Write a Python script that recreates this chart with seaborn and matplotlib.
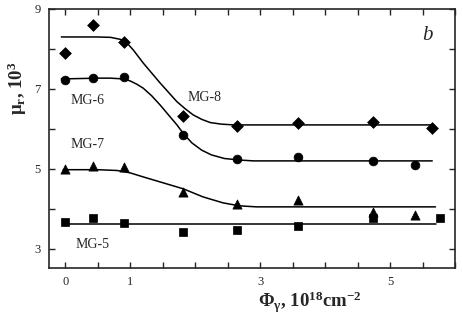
import numpy as np
import pandas as pd
import matplotlib
matplotlib.use('Agg')
import matplotlib.pyplot as plt
import seaborn as sns

# measured points (dose, permeability in 10^3)
dose = [0, 0.43, 0.91, 1.81, 2.65, 3.58, 4.74, 5.65]
mg8 = [7.9, 8.6, 8.18, 6.33, 6.08, 6.15, 6.18, 6.03]
dose6 = [0, 0.43, 0.91, 1.81, 2.65, 3.58, 4.74, 5.38]
mg6 = [7.23, 7.28, 7.3, 5.85, 5.25, 5.3, 5.2, 5.1]
dose7 = [0, 0.43, 0.91, 1.81, 2.65, 3.58, 4.74, 5.38]
mg7 = [5.0, 5.08, 5.05, 4.43, 4.13, 4.23, 3.93, 3.85]
dose5 = [0, 0.43, 0.91, 1.81, 2.65, 3.58, 4.74, 5.77]
mg5 = [3.68, 3.78, 3.65, 3.43, 3.46, 3.56, 3.78, 3.78]

# fitted curves
fit8_x = [-0.06, 0.5, 0.7, 0.85, 0.95, 1.05, 1.2, 1.46, 1.72, 1.85, 1.97, 2.1, 2.23, 2.4, 2.6, 3.5, 5.65]
fit8_y = [8.3, 8.3, 8.29, 8.24, 8.15, 7.97, 7.65, 7.15, 6.68, 6.5, 6.35, 6.24, 6.16, 6.12, 6.1, 6.1, 6.1]
fit6_x = [-0.06, 0.5, 0.69, 0.9, 1.0, 1.1, 1.2, 1.33, 1.46, 1.6, 1.72, 1.82, 1.95, 2.1, 2.25, 2.45, 2.7, 2.9, 5.65]
fit6_y = [7.25, 7.27, 7.27, 7.25, 7.2, 7.12, 7.02, 6.83, 6.6, 6.33, 6.1, 5.88, 5.65, 5.47, 5.35, 5.26, 5.22, 5.2, 5.2]
fit7_x = [-0.03, 0.5, 0.8, 1.0, 1.2, 1.51, 1.82, 2.12, 2.43, 2.6, 2.74, 2.95, 3.15, 5.7]
fit7_y = [4.98, 4.98, 4.96, 4.9, 4.8, 4.65, 4.5, 4.3, 4.15, 4.1, 4.07, 4.05, 4.05, 4.05]
fit5_x = [0, 5.7]
fit5_y = [3.63, 3.63]

xtick_labels = {0: '0', 1: '1', 3: '3', 5: '5'}
ytick_labels = {3: '3', 5: '5', 7: '7', 9: '9'}

sns.set_style('ticks')
plt.rcParams['font.family'] = ['Liberation Serif', 'DejaVu Serif']
plt.rcParams['mathtext.fontset'] = 'custom'
plt.rcParams['mathtext.rm'] = 'Liberation Serif'
plt.rcParams['mathtext.it'] = 'Liberation Serif:italic'
plt.rcParams['mathtext.bf'] = 'Liberation Serif:bold'

fig = plt.figure(figsize=(4.63, 3.21), dpi=100)
ax = fig.add_axes([0.1058, 0.165, 0.8769, 0.807])

curves = [(fit8_x, fit8_y), (fit6_x, fit6_y), (fit7_x, fit7_y), (fit5_x, fit5_y)]
for cx, cy in curves:
    sns.lineplot(x=cx, y=cy, ax=ax, color='black', lw=1.1, sort=False, estimator=None)

pts = [(dose, mg8, 'D', 36), (dose6, mg6, 'o', 40), (dose7, mg7, '^', 44), (dose5, mg5, 's', 26)]
for px, py, m, s in pts:
    sns.scatterplot(x=px, y=py, ax=ax, marker=m, s=s, color='black', edgecolor='black', linewidth=0.5, zorder=3)

ax.set_xlim(-0.25, 6.0)
ax.set_ylim(2.52, 9.0)
xt = np.arange(0, 6.01, 0.5)
ax.set_xticks(xt)
ax.set_xticklabels([xtick_labels.get(v, '') if float(v).is_integer() else '' for v in xt])
yt = np.arange(3, 10)
ax.set_yticks(yt)
ax.set_yticklabels([ytick_labels.get(v, '') for v in yt])
ax.tick_params(direction='in', length=4, width=1, labelsize=9, top=True, right=True, pad=6)
for sp in ax.spines.values():
    sp.set_linewidth(1.2)

ax.text(0.35, 6.72, 'MG-6', fontsize=10, ha='center', va='center')
ax.text(2.15, 6.78, 'MG-8', fontsize=10, ha='center', va='center')
ax.text(0.35, 5.6, 'MG-7', fontsize=10, ha='center', va='center')
ax.text(0.42, 3.1, 'MG-5', fontsize=10, ha='center', va='center')
ax.text(5.57, 8.33, 'b', fontsize=15, style='italic', ha='center', va='center')

ax.set_xlabel(r'$\mathbf{\Phi_\gamma}$, 10$^{\mathbf{18}}$cm$^{\mathbf{-2}}$', fontsize=13.5, fontweight='bold')
ax.xaxis.set_label_coords(0.643, -0.085)
ax.set_ylabel(r'$\mathbf{\mu_r}$, 10$^{\mathbf{3}}$', fontsize=13.5, fontweight='bold')
ax.yaxis.set_label_coords(-0.05, 0.695)

fig.savefig('out.png', dpi=100)
